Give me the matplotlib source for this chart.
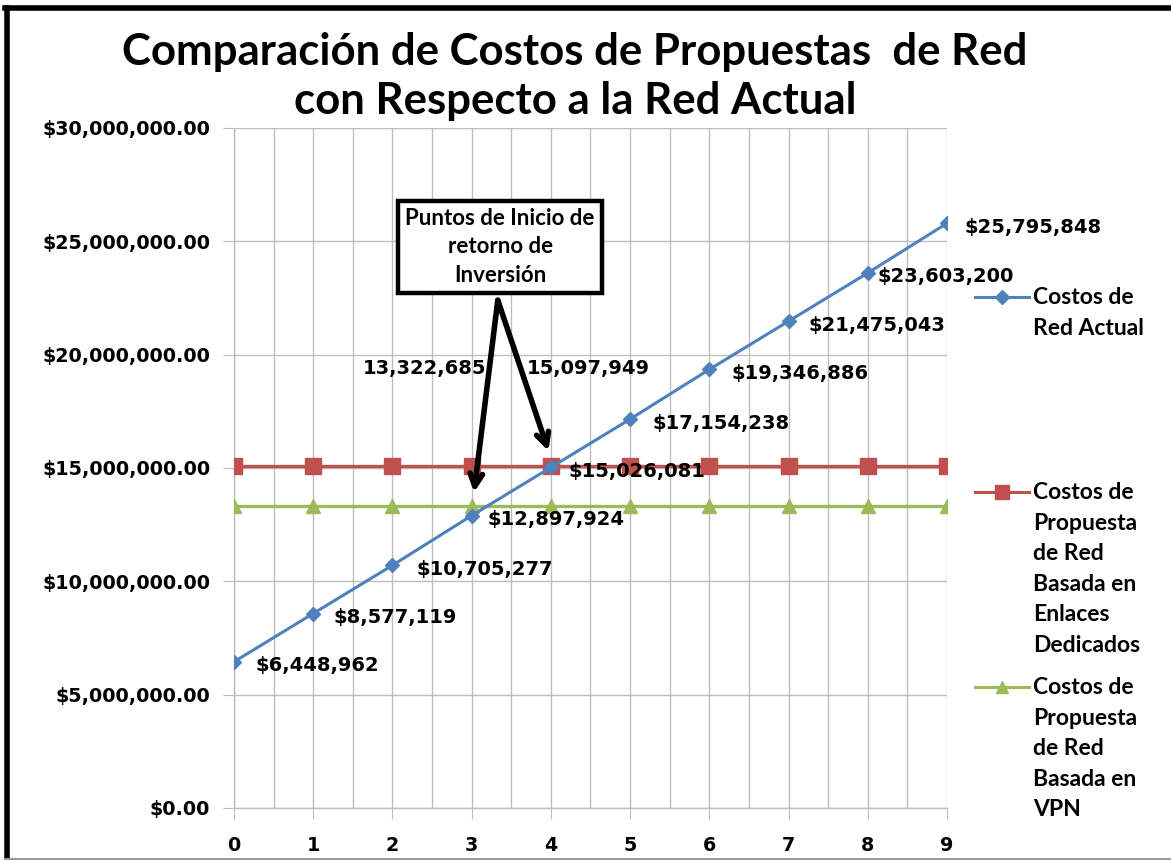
import matplotlib
matplotlib.use("Agg")
import matplotlib.pyplot as plt
from matplotlib.lines import Line2D
from matplotlib.ticker import FuncFormatter, MultipleLocator

years = [0, 1, 2, 3, 4, 5, 6, 7, 8, 9]
red_actual = [6448962, 8577119, 10705277, 12897924, 15026081,
              17154238, 19346886, 21475043, 23603200, 25795848]
enlaces = [15097949] * 10
vpn = [13322685] * 10

series_names = ["Costos de\nRed Actual",
                "Costos de\nPropuesta\nde Red\nBasada en\nEnlaces\nDedicados",
                "Costos de\nPropuesta\nde Red\nBasada en\nVPN"]

BLUE = "#4F81BD"
RED = "#C0504D"
GREEN = "#9BBB59"
GRID = "#BDBDBD"
TEXT_FONT = ["Lato", "DejaVu Sans"]
NUM_FONT = ["DejaVu Sans"]

plt.rcParams["font.family"] = TEXT_FONT
plt.rcParams["font.weight"] = "bold"

fig = plt.figure(figsize=(11.71, 8.60), dpi=100)
ax = fig.add_axes([0.1998, 0.0605, 0.8087 - 0.1998, 0.8512 - 0.0605])

ax.plot(years, red_actual, color=BLUE, lw=2.2, marker="D", ms=7.5, zorder=4)
ax.plot(years, enlaces, color=RED, lw=2.4, marker="s", ms=11, zorder=3)
ax.plot(years, vpn, color=GREEN, lw=2.4, marker="^", ms=10, zorder=3)

ax.set_xlim(0, 9)
ax.set_ylim(0, 30000000)
ax.xaxis.set_major_locator(MultipleLocator(1))
ax.xaxis.set_minor_locator(MultipleLocator(0.5))
ax.yaxis.set_major_locator(MultipleLocator(5000000))
ax.yaxis.set_major_formatter(FuncFormatter(lambda v, p: f"${v:,.2f}"))
ax.grid(True, which="both", axis="x", color=GRID, lw=1.0)
ax.grid(True, which="major", axis="y", color=GRID, lw=1.0)
ax.set_axisbelow(True)
for side in ["top", "right"]:
    ax.spines[side].set_visible(False)
for side in ["left", "bottom"]:
    ax.spines[side].set_color(GRID)
    ax.spines[side].set_linewidth(1.0)
ax.tick_params(axis="both", which="major", length=8, color=GRID,
               labelsize=13.8, pad=9)
ax.tick_params(axis="x", which="minor", length=0)
ax.tick_params(axis="x", pad=12)
for lab in ax.get_xticklabels() + ax.get_yticklabels():
    lab.set_fontweight("bold")
    lab.set_fontfamily(NUM_FONT)

# value labels for the current network
x_offsets = [22, 20, 24, 16, 18, 22, 22, 20, 10, 18]
for x, v, dx in zip(years, red_actual, x_offsets):
    ax.annotate(f"${v:,}", (x, v), xytext=(dx, -4), textcoords="offset pixels",
                ha="left", va="center", fontsize=14, fontweight="bold",
                family=NUM_FONT, zorder=6)

# break-even callout
ax.text(3.36, 24750000, "Puntos de Inicio de\nretorno de\nInversión",
        ha="center", va="center", fontsize=16, fontweight="bold",
        linespacing=1.45,
        bbox=dict(boxstyle="square,pad=0.32", fc="white", ec="black", lw=3.2))
arrow = dict(arrowstyle="->,head_length=0.9,head_width=0.45", color="black",
             lw=4, shrinkA=0, shrinkB=0)
ax.annotate("", xy=(3.03, vpn[3] + 600000), xytext=(3.33, 22400000),
            arrowprops=arrow, zorder=7)
ax.annotate("", xy=(3.97, enlaces[4] + 650000), xytext=(3.33, 22400000),
            arrowprops=arrow, zorder=7)
ax.text(3.19, 19400000, f"{vpn[3]:,}", ha="right", va="center",
        fontsize=14, fontweight="bold", family=NUM_FONT)
ax.text(3.70, 19400000, f"{enlaces[4]:,}", ha="left", va="center",
        fontsize=14, fontweight="bold", family=NUM_FONT)

fig.text(0.491, 0.911, "Comparación de Costos de Propuestas  de Red\ncon Respecto a la Red Actual",
         ha="center", va="center", fontsize=31.5, fontweight="bold",
         linespacing=1.28)

# legend on the right
W, H = 1171.0, 860.0
legend_rows = [(BLUE, "D", 7, 297), (RED, "s", 10, 492), (GREEN, "^", 9, 687)]
for (color, mk, ms, ypix), name in zip(legend_rows, series_names):
    yf = 1 - ypix / H
    fig.add_artist(Line2D([975 / W, 1029 / W], [yf, yf], color=color, lw=2.2,
                          transform=fig.transFigure))
    fig.add_artist(Line2D([1002 / W], [yf], color=color, marker=mk, ms=ms,
                          transform=fig.transFigure))
    fig.text(1033 / W, yf + 10 / H, name, ha="left", va="top", fontsize=16.5,
             fontweight="bold", linespacing=1.56)

# outer frame
fig.add_artist(Line2D([5 / W, 1], [1 - 8 / H, 1 - 8 / H], color="black", lw=4,
                      transform=fig.transFigure))
fig.add_artist(Line2D([7 / W, 7 / W], [0, 1 - 8 / H], color="black", lw=4,
                      transform=fig.transFigure))
fig.add_artist(Line2D([5 / W, 1], [1.5 / H, 1.5 / H], color="#9A9A9A", lw=1.5,
                      transform=fig.transFigure))

fig.savefig("out.png", dpi=100)
